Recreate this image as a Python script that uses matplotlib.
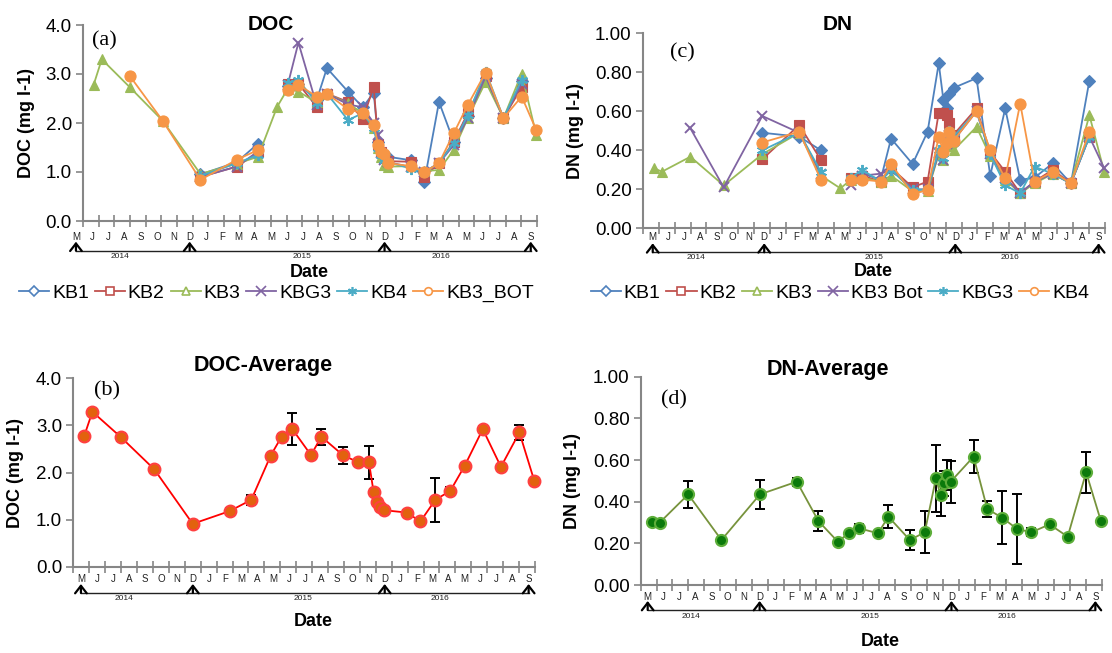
import numpy as np
import matplotlib
matplotlib.use('Agg')
import matplotlib.pyplot as plt
import matplotlib.transforms as mtransforms
from matplotlib.lines import Line2D

plt.rcParams['font.family'] = ['Liberation Sans', 'DejaVu Sans']

n = np.nan

# sampling dates, in months counted from the start of May 2014
sample_month = [0.68, 1.2, 2.99, 5.08, 7.5, 9.82, 11.18, 12.4, 13.08, 13.76, 14.93, 15.58,
                16.93, 17.87, 18.57, 18.86, 19.06, 19.24, 19.5, 20.94, 21.8, 22.74, 23.68,
                24.58, 25.72, 26.86, 28.02, 28.95]

month_labels = ['M', 'J', 'J', 'A', 'S', 'O', 'N', 'D', 'J', 'F', 'M', 'A', 'M', 'J', 'J',
                'A', 'S', 'O', 'N', 'D', 'J', 'F', 'M', 'A', 'M', 'J', 'J', 'A', 'S']
year_labels = ['2014', '2015', '2016']
year_label_slot = [2.7, 13.9, 22.45]   # position counted in month-label slots
year_arrow_slot = [0, 7, 19, 28]

# DOC (mg l-1) per station
doc_kb1 = [n, n, n, n, 0.95, 1.20, 1.58, n, 2.75, 2.80, 2.47, 3.12, 2.64, 2.32, 2.62, 1.62, 1.40, 1.31,
           1.31, 1.24, 0.80, 2.43, 1.62, 2.15, 2.92, 2.10, 2.85, n]
doc_kb2 = [n, n, n, n, 0.90, 1.11, 1.40, n, 2.80, 2.80, 2.33, 2.60, 2.43, 2.08, 2.74, 1.58, 1.40, 1.28,
           1.22, 1.21, 0.90, 1.18, 1.62, 2.20, 2.95, 2.10, 2.73, n]
doc_kb3 = [2.78, 3.30, 2.73, 2.05, 0.96, 1.17, 1.31, 2.33, 2.70, 2.64, 2.42, 2.60, 2.40, 2.20, 1.90, 1.50,
           1.30, 1.15, 1.11, 1.12, 1.02, 1.04, 1.45, 2.10, 2.84, 2.10, 3.01, 1.76]
doc_kbg3 = [n, n, n, n, 0.90, 1.11, 1.42, n, 2.78, 3.64, 2.36, 2.60, 2.38, 2.32, 2.00, 1.76, 1.38, 1.25,
            1.20, 1.10, 1.00, 1.18, 1.55, 2.10, 2.95, 2.10, 2.80, n]
doc_kb4 = [n, n, n, n, 0.92, 1.18, 1.35, n, 2.82, 2.88, 2.40, 2.60, 2.06, 2.20, 1.90, 1.50, 1.35, 1.25,
           1.20, 1.07, 1.00, 1.18, 1.60, 2.16, 3.05, 2.10, 2.88, n]
doc_kb3bot = [n, n, 2.96, 2.05, 0.84, 1.25, 1.45, n, 2.67, 2.78, 2.54, 2.60, 2.28, 2.20, 1.96, 1.55, 1.41,
              1.37, 1.18, 1.12, 1.00, 1.18, 1.79, 2.37, 3.03, 2.10, 2.54, 1.86]

doc_avg = [2.77, 3.29, 2.75, 2.07, 0.91, 1.18, 1.42, 2.36, 2.76, 2.92, 2.37, 2.76, 2.37, 2.22, 2.22,
           1.59, 1.38, 1.26, 1.20, 1.15, 0.96, 1.42, 1.61, 2.14, 2.92, 2.12, 2.85, 1.83]
doc_err = [0, 0, 0.08, 0.02, 0.02, 0.06, 0.1, 0.02, 0.06, 0.34, 0.03, 0.17, 0.18, 0.03, 0.35, 0.07,
           0.03, 0.03, 0.03, 0.05, 0.04, 0.47, 0.09, 0.07, 0.06, 0.02, 0.15, 0.02]

# DN (mg l-1) per station
dn_kb1 = [n, n, n, n, 0.49, 0.47, 0.40, n, 0.25, 0.28, 0.25, 0.46, 0.33, 0.495, 0.846, 0.66, 0.615, 0.69,
          0.72, 0.77, 0.27, 0.615, 0.248, 0.26, 0.333, 0.23, 0.757, n]
dn_kb2 = [n, n, n, n, 0.354, 0.53, 0.35, n, 0.26, 0.27, 0.24, 0.31, 0.21, 0.24, 0.593, 0.59, 0.58, 0.54,
          0.48, 0.615, 0.39, 0.29, 0.18, 0.24, 0.30, 0.23, 0.47, n]
dn_kb3 = [0.31, 0.29, 0.367, 0.22, 0.38, 0.49, 0.27, 0.205, 0.25, 0.26, 0.24, 0.27, 0.19, 0.19, 0.38,
          0.35, 0.42, 0.45, 0.40, 0.52, 0.37, 0.25, 0.18, 0.23, 0.28, 0.23, 0.58, 0.29]
dn_kb3bot = [n, n, 0.513, 0.21, 0.576, 0.49, 0.28, n, 0.22, 0.27, 0.28, 0.30, 0.20, 0.20, 0.385, 0.35,
             0.43, 0.48, 0.45, 0.60, 0.38, 0.26, 0.18, 0.24, 0.28, 0.23, 0.47, 0.308]
dn_kbg3 = [n, n, n, n, 0.40, 0.49, 0.29, n, 0.26, 0.30, 0.24, 0.30, 0.195, 0.20, 0.40, 0.36, 0.45, 0.50,
           0.47, 0.60, 0.38, 0.22, 0.18, 0.316, 0.28, 0.23, 0.47, n]
dn_kb4 = [n, n, n, n, 0.44, 0.495, 0.248, n, 0.25, 0.25, 0.24, 0.33, 0.176, 0.196, 0.47, 0.393, 0.44,
          0.495, 0.45, 0.60, 0.40, 0.256, 0.64, 0.24, 0.29, 0.23, 0.495, n]

dn_avg = [0.304, 0.30, 0.435, 0.216, 0.435, 0.496, 0.307, 0.208, 0.248, 0.272, 0.248, 0.328, 0.216,
          0.253, 0.512, 0.432, 0.488, 0.528, 0.496, 0.616, 0.365, 0.323, 0.269, 0.253, 0.291, 0.232,
          0.541, 0.307]
dn_err = [0, 0, 0.066, 0.01, 0.07, 0.02, 0.05, 0, 0.01, 0.02, 0.01, 0.055, 0.05, 0.10, 0.16, 0.1, 0.06,
          0.07, 0.1, 0.08, 0.04, 0.127, 0.168, 0.02, 0.01, 0.01, 0.097, 0]

# excel-ish colours
blue, red, green, purple, cyan, orange = '#4F81BD', '#C0504D', '#9BBB59', '#8064A2', '#4BACC6', '#F79646'
star = (6, 2, 0)

doc_series = [('KB1', doc_kb1, blue, 'D', 6.5), ('KB2', doc_kb2, red, 's', 6.5),
              ('KB3', doc_kb3, green, '^', 7), ('KBG3', doc_kbg3, purple, 'x', 7),
              ('KB4', doc_kb4, cyan, star, 8), ('KB3_BOT', doc_kb3bot, orange, 'o', 8)]
dn_series = [('KB1', dn_kb1, blue, 'D', 6.5), ('KB2', dn_kb2, red, 's', 7),
             ('KB3', dn_kb3, green, '^', 7), ('KB3 Bot', dn_kb3bot, purple, 'x', 7),
             ('KBG3', dn_kbg3, cyan, star, 8), ('KB4', dn_kb4, orange, 'o', 8)]

fig = plt.figure(figsize=(11.12, 6.53), dpi=100)
W, H = 1112, 653


def add_ax(left, right, top, bottom):
    return fig.add_axes([left / W, 1 - bottom / H, (right - left) / W, (bottom - top) / H])


ax_a = add_ax(83, 537, 25, 221)
ax_b = add_ax(73.3, 535, 378.3, 566.7)
ax_c = add_ax(642.7, 1105, 33.3, 228.3)
ax_d = add_ax(640.7, 1101.7, 376.7, 585)


def below(ax, px):
    # x in data units, y = axis line shifted down by px pixels
    return mtransforms.offset_copy(ax.get_xaxis_transform(), fig=fig, y=-px * 0.72, units='points')


def style_axis(ax, yticks, yfmt, ylabel, span, offs, ylab_x, xlab_xy):
    gray = '#868686'
    for s in ['top', 'right']:
        ax.spines[s].set_visible(False)
    for s in ['left', 'bottom']:
        ax.spines[s].set_color(gray)
        ax.spines[s].set_linewidth(1.5)
    ax.set_xlim(0, 29)
    ax.set_ylim(yticks[0], yticks[-1])
    ax.set_yticks(yticks)
    ax.set_yticklabels([yfmt % v for v in yticks], fontsize=13.5)
    ax.set_xticks(np.arange(0, 30))
    ax.tick_params(axis='y', direction='out', length=5, width=1.2, color=gray, pad=3)
    ax.tick_params(axis='x', direction='inout', length=9, width=1.2, color=gray, labelbottom=False)
    ax.set_ylabel(ylabel, fontsize=13, fontweight='bold', va='center')
    ax.yaxis.set_label_coords(ylab_x, 0.5)
    ax.set_xlabel('Date', fontsize=13, fontweight='bold', va='center')
    ax.xaxis.set_label_coords(*xlab_xy)

    first, last = span
    step = (last - first) / (len(month_labels) - 1)
    pos = [first + i * step for i in range(len(month_labels))]
    m_off, line_off, yr_off = offs
    for p, lab in zip(pos, month_labels):
        ax.text(p, 0, lab, transform=below(ax, m_off), ha='center', va='center', fontsize=7,
                color='#222222')
    arrows = [first + i * step for i in year_arrow_slot]
    ax.plot([arrows[0], arrows[-1]], [0, 0], transform=below(ax, line_off), color='#222222',
            lw=1, clip_on=False)
    for p in arrows:
        ax.annotate('', xy=(p, 0), xycoords=below(ax, line_off - 9), xytext=(p, 0),
                    textcoords=below(ax, line_off), annotation_clip=False,
                    arrowprops=dict(arrowstyle='->,head_length=0.45,head_width=0.35', lw=1.6,
                                    color='black', mutation_scale=12, shrinkA=0, shrinkB=0))
    for slot, lab in zip(year_label_slot, year_labels):
        ax.text(first + slot * step, 0, lab, transform=below(ax, yr_off), ha='center', va='center',
                fontsize=6, color='#222222')


def station_panel(ax, series):
    for name, vals, col, mk, ms in series:
        ax.plot(sample_month, vals, color=col, lw=1.3, marker=mk, ms=ms, mfc=col, mec=col,
                mew=1.4 if mk in ('x', star) else 0.8, clip_on=False)


def legend_for(series, xc):
    handles = [Line2D([], [], color=col, lw=1.3, marker=mk, ms=6.5 if mk in ('x', star) else 5.5,
                      mfc='white', mec=col, mew=1.2) for name, vals, col, mk, ms in series]
    fig.legend(handles, [s[0] for s in series], loc='center', bbox_to_anchor=(xc / W, 1 - 293 / H),
               ncol=6, frameon=False, fontsize=14, handlelength=1.55, handletextpad=0.15,
               columnspacing=0.3, borderpad=0)


# (a) DOC stations
station_panel(ax_a, doc_series)
style_axis(ax_a, [0, 1, 2, 3, 4], '%.1f', 'DOC (mg l-1)', (-0.45, 28.6), (16, 29.7, 36),
           -0.124, (0.498, -0.265))
ax_a.text(0.414, 1.0, 'DOC', transform=ax_a.transAxes, ha='center', va='center', fontsize=15,
          fontweight='bold')
ax_a.text(0.048, 0.92, '(a)', transform=ax_a.transAxes, ha='center', va='center', fontsize=16,
          family='Liberation Serif')
legend_for(doc_series, 276.5)

# (b) DOC average
ax_b.errorbar(sample_month, doc_avg, yerr=doc_err, fmt='none', ecolor='black', elinewidth=1.4,
              capsize=3.5, capthick=1.4, zorder=2, clip_on=False)
ax_b.plot(sample_month, doc_avg, color='#FF0000', lw=1.3, marker='o', ms=8.5, mfc='#E2620E',
          mec='#FF4040', mew=1.5, zorder=3, clip_on=False)
style_axis(ax_b, [0, 1, 2, 3, 4], '%.1f', 'DOC (mg l-1)', (0.48, 28.6), (12.3, 26.3, 32.3),
           -0.125, (0.519, -0.292))
ax_b.text(0.412, 1.07, 'DOC-Average', transform=ax_b.transAxes, ha='center', va='center',
          fontsize=15.5, fontweight='bold')
ax_b.text(0.072, 0.933, '(b)', transform=ax_b.transAxes, ha='center', va='center', fontsize=16,
          family='Liberation Serif')

# (c) DN stations
station_panel(ax_c, dn_series)
style_axis(ax_c, [0, 0.2, 0.4, 0.6, 0.8, 1.0], '%.2f', 'DN (mg l-1)', (0.63, 28.6), (9, 24, 29),
           -0.146, (0.498, -0.223))
ax_c.text(0.422, 1.046, 'DN', transform=ax_c.transAxes, ha='center', va='center', fontsize=15,
          fontweight='bold')
ax_c.text(0.085, 0.90, '(c)', transform=ax_c.transAxes, ha='center', va='center', fontsize=16,
          family='Liberation Serif')
legend_for(dn_series, 840)

# (d) DN average
ax_d.errorbar(sample_month, dn_avg, yerr=dn_err, fmt='none', ecolor='black', elinewidth=1.4,
              capsize=3.5, capthick=1.4, zorder=2, clip_on=False)
ax_d.plot(sample_month, dn_avg, color='#77933C', lw=1.3, marker='o', ms=8, mfc='#0B7A0B',
          mec='#5DAE3A', mew=1.5, zorder=3, clip_on=False)
style_axis(ax_d, [0, 0.2, 0.4, 0.6, 0.8, 1.0], '%.2f', 'DN (mg l-1)', (0.44, 28.6), (11.7, 25, 31),
           -0.148, (0.519, -0.272))
ax_d.text(0.406, 1.034, 'DN-Average', transform=ax_d.transAxes, ha='center', va='center',
          fontsize=15.5, fontweight='bold')
ax_d.text(0.073, 0.888, '(d)', transform=ax_d.transAxes, ha='center', va='center', fontsize=16,
          family='Liberation Serif')

fig.savefig('out.png', dpi=100)
